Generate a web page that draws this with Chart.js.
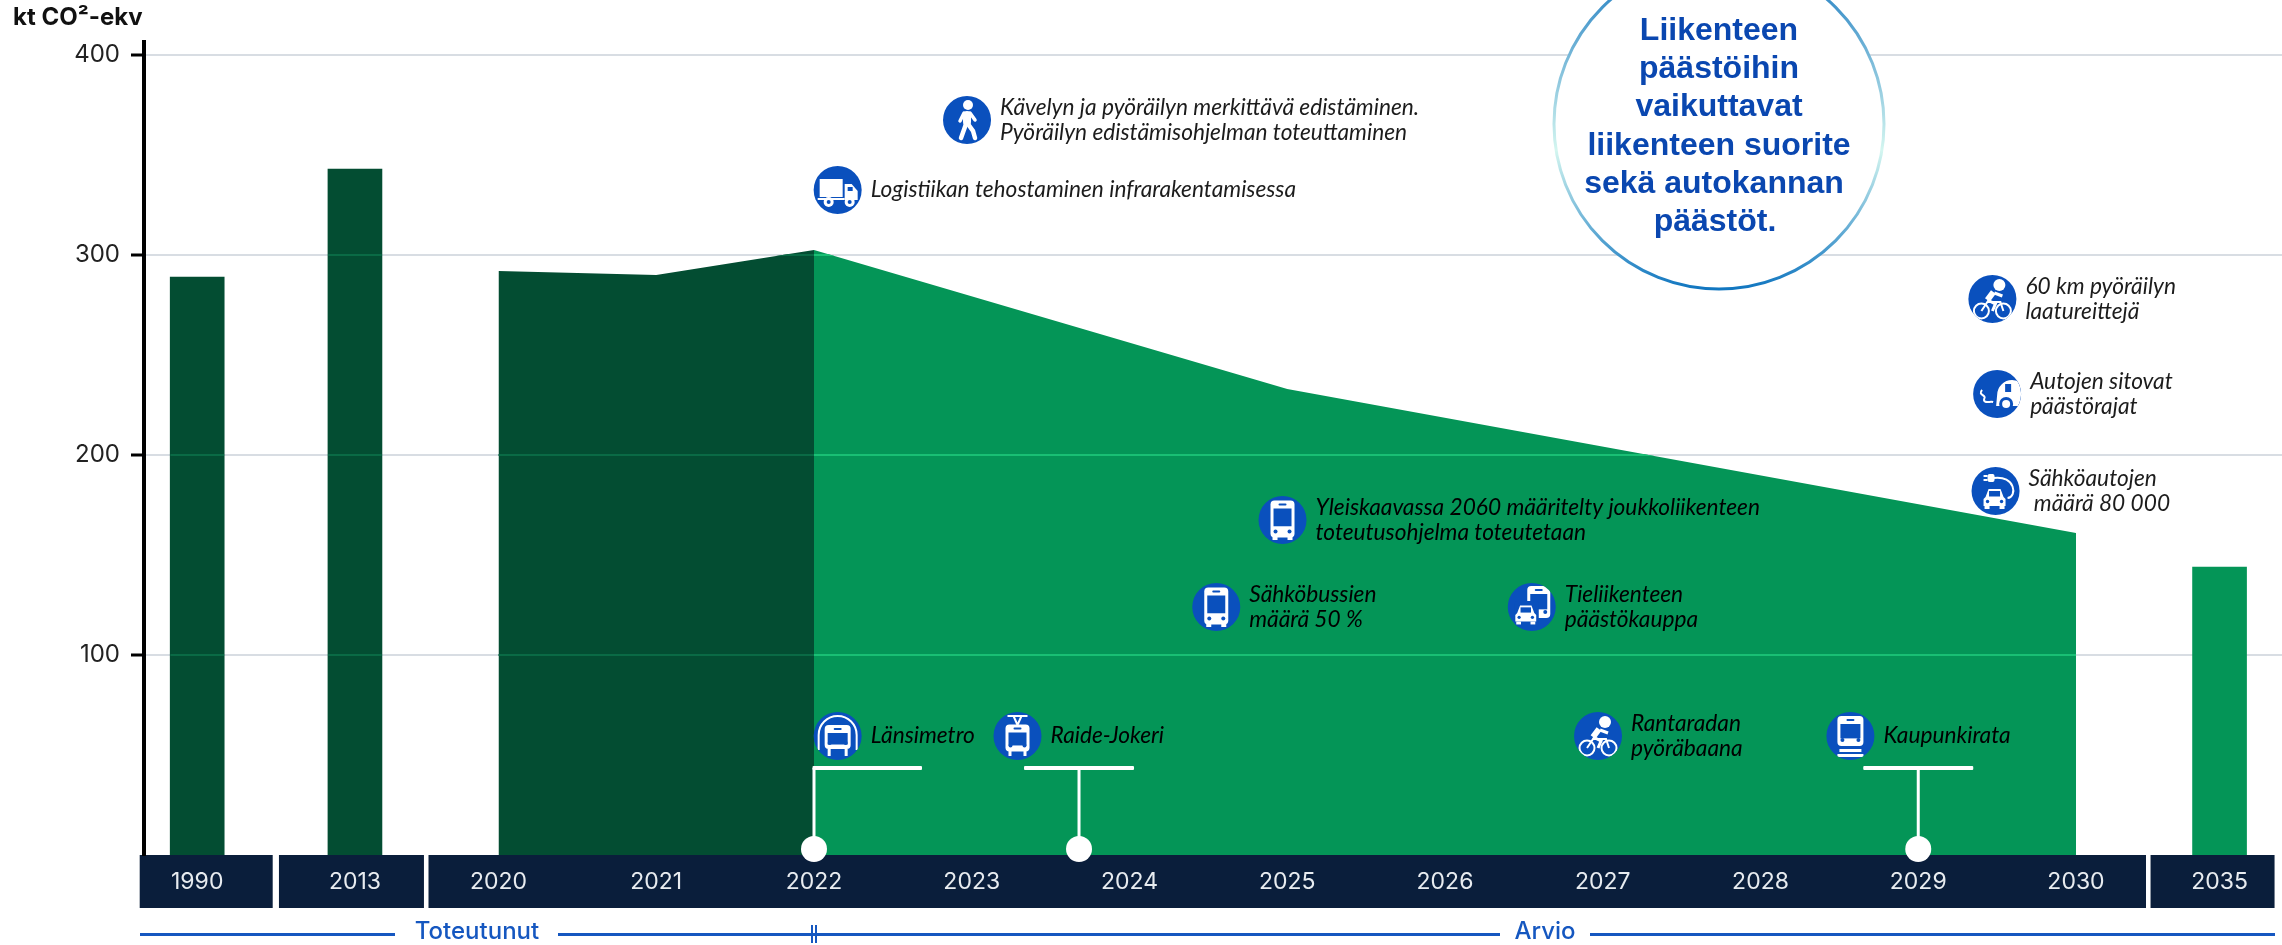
<!DOCTYPE html>
<html>
<head>
<meta charset="utf-8">
<script src="https://cdn.jsdelivr.net/npm/chart.js@4"></script>
<style>
html, body { margin: 0; background: #fff; overflow: hidden; }
#wrap { width: 2282px; height: 945px; position: relative; }
</style>
</head>
<body>
<div id="wrap"><canvas id="chart"></canvas></div>
<script>
// axis labels and where each one sits on the (compressed) year axis
const yearLabels = [1990, 2013, 2020, 2021, 2022, 2023, 2024, 2025, 2026, 2027, 2028, 2029, 2030, 2035];
const yearSlots = [2018.09, 2019.09, 2020, 2021, 2022, 2023, 2024, 2025, 2026, 2027, 2028, 2029, 2030, 2030.91];
const yTickValues = [100, 200, 300, 400];

const barSlots = [2018.09, 2019.09, 2030.91];
const barValues = [289, 343, 144];

const actualYears = [2020, 2021, 2022];
const actualValues = [292, 290, 302.5];
const forecastYears = [2022, 2025, 2030];
const forecastValues = [302.5, 233, 161];

const milestoneYears = [2022, 2023.68, 2029];

const noteLines = [
    ["Kävelyn ja pyöräilyn merkittävä edistäminen.", "Pyöräilyn edistämisohjelman toteuttaminen"],
    ["Logistiikan tehostaminen infrarakentamisessa"],
    ["60 km pyöräilyn", "laatureittejä"],
    ["Autojen sitovat", "päästörajat"],
    ["Sähköautojen", " määrä 80 000"],
    ["Yleiskaavassa 2060 määritelty joukkoliikenteen", "toteutusohjelma toteutetaan"],
    ["Sähköbussien", "määrä 50 %"],
    ["Tieliikenteen", "päästökauppa"],
    ["Länsimetro"],
    ["Raide-Jokeri"],
    ["Rantaradan", "pyöräbaana"],
    ["Kaupunkirata"]
];
const noteIcons = ["walk", "truck", "bike", "exhaust", "plug", "bus", "bus", "buscar", "metro", "tram", "bike", "train"];
const noteXs = [2022.97, 2022.15, 2029.47, 2029.50, 2029.49, 2024.97, 2024.55, 2026.55, 2022.15, 2023.29, 2026.97, 2028.57];
const noteYs = [367.5, 332.5, 278, 230.5, 182, 167.5, 124, 124, 59.5, 59.5, 59.5, 59.5];

const calloutLines = ["Liikenteen", "päästöihin", "vaikuttavat", "liikenteen suorite", "sekä autokannan ", "päästöt."];

const DARK = "#034d32";
const GREEN = "#049557";
const NAVY = "#0a1e3b";
const BLUE = "#0a50bd";
const LINE_BLUE = "#1557c0";

function rr(c, x, y, w, h, r) {
    c.beginPath();
    c.roundRect(x, y, w, h, r);
    c.fill();
}
function disc(c, x, y, r) {
    c.beginPath();
    c.arc(x, y, r, 0, Math.PI * 2);
    c.fill();
}
function stroke(c, pts) {
    c.beginPath();
    pts.forEach((p, i) => i ? c.lineTo(p[0], p[1]) : c.moveTo(p[0], p[1]));
    c.stroke();
}

// front-on vehicle used by the bus, tram, metro and train icons
function busBody(c, x, y, w, h) {
    c.fillStyle = "#fff";
    rr(c, x - w / 2, y - h / 2, w, h, 4);
    c.fillStyle = BLUE;
    c.fillRect(x - w / 2 + 3, y - h / 2 + 8, w - 6, h * 0.48);
    disc(c, x - w / 2 + 5, y + h / 2 - 6, 2);
    disc(c, x + w / 2 - 5, y + h / 2 - 6, 2);
    rr(c, x - 4, y - h / 2 + 3, 8, 2, 1);
}
function carFront(c, x, y, s) {
    c.fillStyle = "#fff";
    c.beginPath();
    c.moveTo(x - 9 * s, y - 1 * s);
    c.lineTo(x - 6 * s, y - 9 * s);
    c.lineTo(x + 6 * s, y - 9 * s);
    c.lineTo(x + 9 * s, y - 1 * s);
    c.lineTo(x + 11 * s, y + 1 * s);
    c.lineTo(x + 11 * s, y + 8 * s);
    c.lineTo(x - 11 * s, y + 8 * s);
    c.lineTo(x - 11 * s, y + 1 * s);
    c.closePath();
    c.fill();
    c.fillRect(x - 10 * s, y + 8 * s, 5 * s, 3 * s);
    c.fillRect(x + 5 * s, y + 8 * s, 5 * s, 3 * s);
    c.fillStyle = BLUE;
    c.fillRect(x - 5.5 * s, y - 7 * s, 11 * s, 5.5 * s);
    disc(c, x - 7 * s, y + 3.5 * s, 1.7 * s);
    disc(c, x + 7 * s, y + 3.5 * s, 1.7 * s);
}
function bikeRider(c, x, y) {
    c.fillStyle = "#fff";
    c.strokeStyle = "#fff";
    disc(c, x + 7, y - 14, 6);
    c.lineWidth = 2;
    c.beginPath(); c.arc(x - 11, y + 12, 7.5, 0, Math.PI * 2); c.stroke();
    c.beginPath(); c.arc(x + 11, y + 12, 7.5, 0, Math.PI * 2); c.stroke();
    c.lineWidth = 6;
    stroke(c, [[x + 1, y - 7], [x - 5, y + 1]]);
    c.lineWidth = 3;
    stroke(c, [[x + 2, y - 6], [x + 10, y - 3]]);
    stroke(c, [[x - 5, y + 1], [x + 3, y + 5], [x, y + 12]]);
    c.lineWidth = 2;
    stroke(c, [[x - 11, y + 12], [x - 5, y + 3], [x + 8, y + 3], [x + 11, y + 12]]);
}
const iconDraw = {
    bus(c, x, y) {
        busBody(c, x, y - 1, 24, 37);
        c.fillStyle = "#fff";
        c.fillRect(x - 10, y + 17, 5, 3);
        c.fillRect(x + 5, y + 17, 5, 3);
    },
    tram(c, x, y) {
        c.strokeStyle = "#fff";
        c.lineWidth = 2;
        stroke(c, [[x - 10, y - 20], [x + 10, y - 20]]);
        stroke(c, [[x - 4, y - 20], [x, y - 11], [x + 4, y - 20]]);
        busBody(c, x, y + 2, 24, 27);
        c.fillStyle = "#fff";
        c.fillRect(x - 9, y + 15, 3, 5);
        c.fillRect(x + 6, y + 15, 3, 5);
    },
    metro(c, x, y) {
        c.strokeStyle = "#fff";
        c.lineWidth = 2;
        c.beginPath();
        c.moveTo(x - 19, y + 14);
        c.lineTo(x - 19, y - 1);
        c.arc(x, y - 1, 19, Math.PI, 0);
        c.lineTo(x + 19, y + 14);
        c.stroke();
        busBody(c, x, y + 1, 26, 24);
        c.fillStyle = "#fff";
        c.fillRect(x - 10, y + 13, 3, 7);
        c.fillRect(x + 7, y + 13, 3, 7);
    },
    train(c, x, y) {
        busBody(c, x, y - 5, 26, 30);
        c.fillStyle = "#fff";
        c.fillRect(x - 11, y + 13, 22, 3);
        c.fillRect(x - 13, y + 18, 26, 3);
    },
    truck(c, x, y) {
        c.fillStyle = "#fff";
        c.fillRect(x - 18, y - 11, 23, 18);
        c.beginPath();
        c.moveTo(x + 7, y - 6);
        c.lineTo(x + 14, y - 6);
        c.lineTo(x + 20, y + 1);
        c.lineTo(x + 20, y + 10);
        c.lineTo(x + 7, y + 10);
        c.closePath();
        c.fill();
        c.fillRect(x - 20, y + 8, 27, 2);
        disc(c, x - 9, y + 12, 5);
        disc(c, x + 12, y + 12, 5);
        c.fillStyle = BLUE;
        disc(c, x - 9, y + 12, 2);
        disc(c, x + 12, y + 12, 2);
        c.fillRect(x + 10, y - 3, 5, 4);
    },
    walk(c, x, y) {
        c.fillStyle = "#fff";
        c.strokeStyle = "#fff";
        disc(c, x + 1, y - 15, 5);
        c.lineCap = "round";
        c.lineWidth = 8;
        stroke(c, [[x, y - 5], [x, y + 2]]);
        c.lineWidth = 3.5;
        stroke(c, [[x + 3, y - 7], [x + 8, y]]);
        stroke(c, [[x - 3, y - 7], [x - 7, y + 1]]);
        c.lineWidth = 4.5;
        stroke(c, [[x - 1, y + 4], [x - 6, y + 18]]);
        stroke(c, [[x + 1, y + 4], [x + 6, y + 11], [x + 8, y + 18]]);
        c.lineCap = "butt";
    },
    bike: bikeRider,
    exhaust(c, x, y) {
        c.fillStyle = "#fff";
        c.save();
        c.beginPath();
        c.arc(x, y, 24, 0, Math.PI * 2);
        c.clip();
        c.beginPath();
        c.arc(x + 15, y + 1, 15, Math.PI, Math.PI * 1.9);
        c.lineTo(x + 24, y + 12);
        c.lineTo(x - 1, y + 12);
        c.closePath();
        c.fill();
        c.restore();
        c.fillStyle = BLUE;
        c.fillRect(x + 8, y - 10, 6, 8);
        disc(c, x + 9, y + 10, 7);
        c.fillStyle = "#fff";
        disc(c, x + 9, y + 10, 4);
        c.strokeStyle = "#fff";
        c.lineWidth = 2;
        c.beginPath();
        c.moveTo(x - 15, y - 4);
        c.bezierCurveTo(x - 20, y + 1, x - 10, y + 1, x - 13, y + 5);
        c.bezierCurveTo(x - 14, y + 10, x - 7, y + 7, x - 4, y + 8);
        c.stroke();
    },
    plug(c, x, y) {
        carFront(c, x - 1, y + 7, 1);
        c.strokeStyle = "#fff";
        c.lineWidth = 2;
        c.beginPath();
        c.moveTo(x - 2, y - 13);
        c.bezierCurveTo(x + 20, y - 16, x + 22, y + 6, x + 12, y + 7);
        c.stroke();
        c.fillStyle = "#fff";
        rr(c, x - 8, y - 17, 7, 8, 2);
        c.fillRect(x - 12, y - 16, 4, 2);
        c.fillRect(x - 12, y - 12, 4, 2);
    },
    buscar(c, x, y) {
        busBody(c, x + 7, y - 5, 23, 32);
        c.fillStyle = BLUE;
        rr(c, x - 17, y - 6, 24, 26, 3);
        carFront(c, x - 6, y + 7, 0.95);
    }
};

// navy year band, phase rule below it, and y-axis heading
const backdropPlugin = {
    id: "backdrop",
    beforeDraw(chart) {
        const c = chart.ctx;
        const x = chart.scales.x;
        const top = chart.chartArea.bottom;
        const px = v => x.getPixelForValue(v);
        c.fillStyle = "#fff";
        c.fillRect(0, 0, chart.width, chart.height);
        c.fillStyle = NAVY;
        const bands = [
            [px(2018.09) - 57.5, px(2018.09) + 75.5],
            [px(2019.09) - 76, px(2019.09) + 69],
            [px(2020) - 70, px(2030) + 70],
            [px(2030.91) - 69, px(2030.91) + 55]
        ];
        bands.forEach(b => c.fillRect(b[0], top, b[1] - b[0], 53));

        c.fillStyle = LINE_BLUE;
        const y = top + 78;
        const rules = [[140, 395], [558, 1500], [1590, 2275]];
        rules.forEach(r => c.fillRect(r[0], y, r[1] - r[0], 3));
        const split = px(2022);
        c.fillRect(split - 3, y - 8, 2, 18);
        c.fillRect(split + 1, y - 8, 2, 18);
        c.font = "500 24px Inter";
        c.textAlign = "center";
        c.textBaseline = "middle";
        c.fillText("Toteutunut", 477, y - 1);
        c.fillText("Arvio", 1545, y - 1);

        c.fillStyle = "#111";
        c.font = "700 24px Inter";
        c.textAlign = "left";
        c.fillText("kt CO²-ekv", 13, 18);
    }
};

// grid lines show through the fills as a lighter tone
function gridOver(c, chart, path, color) {
    const { x, y } = chart.scales;
    c.save();
    c.beginPath();
    path.forEach((p, i) => {
        const px = x.getPixelForValue(p[0]), py = y.getPixelForValue(p[1]);
        i ? c.lineTo(px, py) : c.moveTo(px, py);
    });
    c.closePath();
    c.clip();
    c.strokeStyle = color;
    c.lineWidth = 2;
    yTickValues.forEach(v => {
        const py = y.getPixelForValue(v);
        c.beginPath();
        c.moveTo(chart.chartArea.left, py);
        c.lineTo(chart.chartArea.right, py);
        c.stroke();
    });
    c.restore();
}

const overlayPlugin = {
    id: "overlay",
    afterDatasetsDraw(chart) {
        const c = chart.ctx;
        const { x, y } = chart.scales;

        const closed = (xs, ys) => [[xs[0], 0], ...xs.map((v, i) => [v, ys[i]]), [xs[xs.length - 1], 0]];
        gridOver(c, chart, closed(actualYears, actualValues), "#0a6a45");
        gridOver(c, chart, closed(forecastYears, forecastValues), "#19bf74");
        [0, 1].forEach(i => gridOver(c, chart, closed([barSlots[i] - 0.17, barSlots[i] + 0.17], [barValues[i], barValues[i]]), "#0a6a45"));

        // milestone stems
        c.fillStyle = "#fff";
        const barY = y.getPixelForValue(43.5);
        milestoneYears.forEach((m, i) => {
            const mx = x.getPixelForValue(m);
            c.fillRect(mx - 1.5, barY, 3, y.getPixelForValue(3) - barY);
            const from = i === 0 ? mx - 1.5 : mx - 55;
            const to = i === 0 ? mx + 108 : mx + 55;
            rr(c, from, barY - 2, to - from, 4, 1);
        });

        // notes
        noteLines.forEach((lines, i) => {
            const nx = x.getPixelForValue(noteXs[i]);
            const ny = y.getPixelForValue(noteYs[i]);
            c.save();
            c.beginPath();
            c.arc(nx, ny, 24, 0, Math.PI * 2);
            c.clip();
            iconDraw[noteIcons[i]](c, nx, ny);
            c.restore();
            c.fillStyle = noteYs[i] > 200 || i === 4 || i === 1 ? "#1c1c1c" : "#000";
            c.font = "italic 22.7px Lato";
            c.textAlign = "left";
            c.textBaseline = "middle";
            const start = ny - (lines.length - 1) * 12;
            lines.forEach((t, j) => c.fillText(t, nx + 33, start + j * 24.5));
        });

        // callout circle, runs off the top of the page
        const cx = 1719, cy = 124, r = 165;
        const g = c.createLinearGradient(0, cy - r, 0, cy + r);
        g.addColorStop(0, "#1576bf");
        g.addColorStop(0.58, "#d4f6f0");
        g.addColorStop(1, "#1176c0");
        c.fillStyle = "#fff";
        c.strokeStyle = g;
        c.lineWidth = 3;
        c.beginPath();
        c.arc(cx, cy, r, 0, Math.PI * 2);
        c.fill();
        c.stroke();
        c.fillStyle = "#0a47b0";
        c.font = "bold 32px 'Liberation Sans'";
        c.textAlign = "center";
        c.textBaseline = "middle";
        calloutLines.forEach((t, i) => {
            const tx = t.endsWith(" ") ? cx - 5 : (i === 5 ? cx - 4 : cx);
            c.fillText(t.trim(), tx, 31 + i * 38.3);
        });
    }
};

new Chart(document.getElementById("chart"), {
    data: {
        datasets: [
            {
                type: "scatter", label: "Notes", order: 0, clip: false,
                data: noteXs.map((v, i) => ({ x: v, y: noteYs[i] })),
                pointRadius: 24, pointHoverRadius: 24, backgroundColor: BLUE, borderWidth: 0
            },
            {
                type: "scatter", label: "Milestones", order: 1, clip: false,
                data: milestoneYears.map(v => ({ x: v, y: 3 })),
                pointRadius: 13, pointHoverRadius: 13, backgroundColor: "#fff", borderWidth: 0
            },
            {
                type: "line", label: "Toteutunut", order: 3,
                data: actualYears.map((v, i) => ({ x: v, y: actualValues[i] })),
                fill: "origin", backgroundColor: DARK, borderWidth: 0, pointRadius: 0, tension: 0
            },
            {
                type: "line", label: "Arvio", order: 3,
                data: forecastYears.map((v, i) => ({ x: v, y: forecastValues[i] })),
                fill: "origin", backgroundColor: GREEN, borderWidth: 0, pointRadius: 0, tension: 0
            },
            {
                type: "bar", label: "Vuodet", order: 4,
                data: barSlots.map((v, i) => ({ x: v, y: barValues[i] })),
                backgroundColor: [DARK, DARK, GREEN], barThickness: 54, borderWidth: 0
            }
        ]
    },
    options: {
        responsive: true,
        maintainAspectRatio: false,
        animation: false,
        layout: { autoPadding: false, padding: { top: 42, left: 0, right: 0, bottom: 0 } },
        plugins: { legend: { display: false }, tooltip: { enabled: false } },
        scales: {
            x: {
                type: "linear",
                offset: false,
                // 157.75 px per year, so 2022 lands on a whole pixel and the two fills meet cleanly
                min: 2022 - 670 / 157.75,
                max: 2022 - 670 / 157.75 + 2138 / 157.75,
                afterFit(scale) {
                    scale.height = 90;
                    scale.paddingLeft = 0;
                    scale.paddingRight = 0;
                },
                afterBuildTicks(scale) { scale.ticks = yearSlots.map(v => ({ value: v })); },
                grid: { display: false, drawTicks: false, offset: false },
                border: { display: false },
                ticks: {
                    autoSkip: false, maxRotation: 0, minRotation: 0, padding: 13, color: "#e8ecf0",
                    font: { family: "Inter", size: 23 },
                    callback: v => yearLabels[yearSlots.indexOf(v)]
                }
            },
            y: {
                min: 0,
                max: 406.5,
                afterFit(scale) { scale.width = 144; },
                afterBuildTicks(scale) { scale.ticks = yTickValues.map(v => ({ value: v })); },
                grid: { color: "#d8dde3", lineWidth: 2, tickColor: "#000", tickLength: 13, tickWidth: 3 },
                border: { color: "#000", width: 4 },
                ticks: { padding: 11, color: "#222", font: { family: "Inter", size: 24 } }
            }
        }
    },
    plugins: [backdropPlugin, overlayPlugin]
});
</script>
</body>
</html>
